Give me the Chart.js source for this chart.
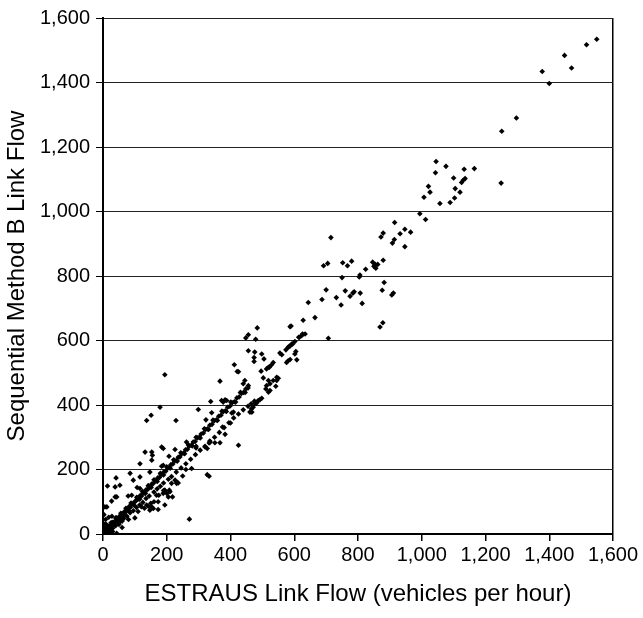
<!DOCTYPE html>
<html>
<head>
<meta charset="utf-8">
<script src="https://cdn.jsdelivr.net/npm/chart.js@4"></script>
<style>
  body { margin: 0; background: #fff; }
</style>
</head>
<body>
<canvas id="chart" width="643" height="618"></canvas>
<script>
// link flows, ESTRAUS (x) vs Sequential Method B (y), vehicles per hour
// dense band along the diagonal
const bandX = [2,5,8,10,12,15,18,20,24,27,30,33,36,40,43,47,50,54,58,62,66,70,74,78,82,86,90,95,100,104,
  108,112,117,121,126,130,135,140,144,149,153,158,163,168,172,177,182,187,192,197,203,208,213,219,224,230,236,241,247,253,
  259,265,271,277,283,289,296,302,308,315,322,328,335,342,349,356,363,370,377,384,391,398,405,412,420,427,434,441,448,455];
const bandY = [4,3,10,12,9,17,16,24,22,29,28,36,34,41,45,44,53,52,60,59,68,67,76,75,85,83,92,94,101,103,
  110,109,119,118,128,127,137,138,146,147,155,157,165,166,174,175,184,186,194,195,205,207,215,217,226,228,238,239,249,251,
  261,263,273,275,285,287,298,300,310,313,324,326,337,340,351,354,365,368,379,382,393,396,407,410,422,425,436,439,450,453];

const band2X = [6,14,22,29,35,42,49,56,64,72,80,88,97,106,115,124,133,142,151,160,170,180,190,200,211,222,233,244,256,268,
  280,292,305,318,331,345,359,373,387,401,416,431,446];
const band2Y = [0,20,15,36,28,50,42,64,57,80,73,96,90,114,108,132,126,150,144,168,163,188,183,208,204,230,226,252,249,276,
  273,300,298,326,324,353,352,381,380,409,409,439,439];

// stripe just under the diagonal
const stripeX = [20,30,40,55,65,75,85,95,105,115,125,135,145,160,170,180,190,205,215,230,245,260,275,290,305,320,335,350,365,380,395,410,425,440,455,465,475];
const stripeY = [10,18,26,40,48,55,66,72,82,90,98,110,118,130,140,148,158,170,178,192,205,218,232,246,260,272,288,300,315,330,345,360,372,385,396,404,412];

// scattered points below ~550
const scatterX = [0,3,12,5,15,8,25,3,18,6,12,27,38,43,14,41,38,53,85,95,
  116,79,90,107,116,147,116,153,132,153,155,184,189,184,189,137,151,179,194,229,
  226,207,299,338,341,372,383,377,388,404,400,375,383,323,367,412,421,425,445,440,
  456,409,262,292,292,320,327,336,351,367,333,425,260,278,327,333,226,231,215,208,
  205,271,43,100,137,147,158,142,153,173,173,194,200,210,194,218,168,189,231,236,
  60,80,110,120,130,150,160,175,190,250,461,466,477,487,492,498,482,471,467,519,
  511,524,45,50,55,60,35,28,40,10,20,8,0,1,4,10,22,30];
const scatterY = [0,18,6,30,25,45,35,60,52,84,84,102,115,115,149,174,146,151,188,167,
  177,118,120,144,141,192,218,229,254,254,244,270,265,210,213,352,368,393,494,352,
  262,241,386,411,376,414,416,409,414,375,344,332,309,354,474,525,504,503,476,466,
  460,378,285,272,267,270,265,285,283,283,282,275,200,203,184,179,167,157,157,136,
  115,46,2,50,90,74,79,86,84,100,76,90,126,131,136,115,120,126,162,158,
  20,45,70,85,80,95,100,120,135,180,378,388,404,414,416,421,406,393,378,440,
  450,445,38,30,48,40,28,55,50,30,10,12,8,15,25,0,4,8];

// higher flows
const highX = [474,474,476,498,505,513,519,529,534,522,496,503,519,534,545,550,545,542,524,513,
  555,561,576,581,587,602,605,608,581,587,595,602,574,583,592,616,623,634,614,626,
  587,590,628,665,644,707,456,456,448,479,484,687,700,715,692,705,732,747,750,752,
  760,767,775,780,784,788,804,806,807,813,824,846,850,854,856,862,872,876,879,879,
  882,906,908,911,914,915,932,947,947,965,869,878,994,1012,1007,1026,1021,1043,1045,1076,
  1057,1089,1103,1120,1105,1100,1130,1136,1125,1133,1165,1249,1251,1297,1378,1400,1448,1470,1517,1549];
const highY = [535,547,564,558,543,512,517,525,532,517,505,484,476,476,486,483,476,458,466,460,
  561,556,532,537,541,558,566,540,579,583,589,597,571,581,589,610,615,620,610,620,
  643,645,663,671,718,607,568,618,608,604,639,727,757,919,832,839,733,710,795,841,
  754,832,737,846,747,751,797,803,747,715,821,843,830,836,824,836,921,756,933,849,
  780,741,902,747,913,966,931,945,891,936,642,655,993,975,1044,1060,1078,1120,1155,1140,
  1025,1028,1042,1060,1071,1104,1097,1102,1090,1131,1133,1088,1249,1290,1434,1397,1484,1445,1517,1534];

const allX = [].concat(bandX, band2X, stripeX, scatterX, highX);
const allY = [].concat(bandY, band2Y, stripeY, scatterY, highY);
const points = allX.map((x, i) => ({ x: x, y: allY[i] }));

const FONT = "'Liberation Sans', Arial, sans-serif";

new Chart(document.getElementById("chart"), {
  type: "scatter",
  data: {
    datasets: [{
      data: points,
      pointStyle: "rectRot",
      pointRadius: 2.8,
      pointBorderWidth: 0,
      backgroundColor: "#000",
      borderColor: "#000"
    }]
  },
  options: {
    responsive: false,
    animation: false,
    layout: { padding: { top: 14, right: 30, left: 0, bottom: 0 } },
    plugins: { legend: { display: false }, tooltip: { enabled: false } },
    scales: {
      x: {
        type: "linear",
        min: 0,
        max: 1600,
        afterFit: (s) => { s.height = 84; },
        ticks: { stepSize: 200, color: "#000", padding: 2, font: { family: FONT, size: 20 } },
        grid: {
          color: (ctx) => (ctx.index === 8 ? "#000" : "rgba(0,0,0,0)"),
          tickColor: "#000",
          tickLength: 7,
          lineWidth: 1.5
        },
        border: { display: true, color: "#000", width: 2 },
        title: {
          display: true,
          text: "ESTRAUS Link Flow (vehicles per hour)",
          color: "#000",
          font: { family: FONT, size: 24 },
          padding: { top: 0, bottom: 9 }
        }
      },
      y: {
        min: 0,
        max: 1600,
        afterFit: (s) => { s.width = 103; },
        ticks: { stepSize: 200, color: "#000", padding: 6, font: { family: FONT, size: 20 } },
        grid: { color: "#222", tickColor: "#000", tickLength: 7, lineWidth: 1 },
        border: { display: true, color: "#000", width: 2 },
        title: {
          display: true,
          text: "Sequential Method B Link Flow",
          color: "#000",
          font: { family: FONT, size: 24 },
          padding: { top: 3, bottom: 0 }
        }
      }
    }
  }
});
</script>
</body>
</html>
